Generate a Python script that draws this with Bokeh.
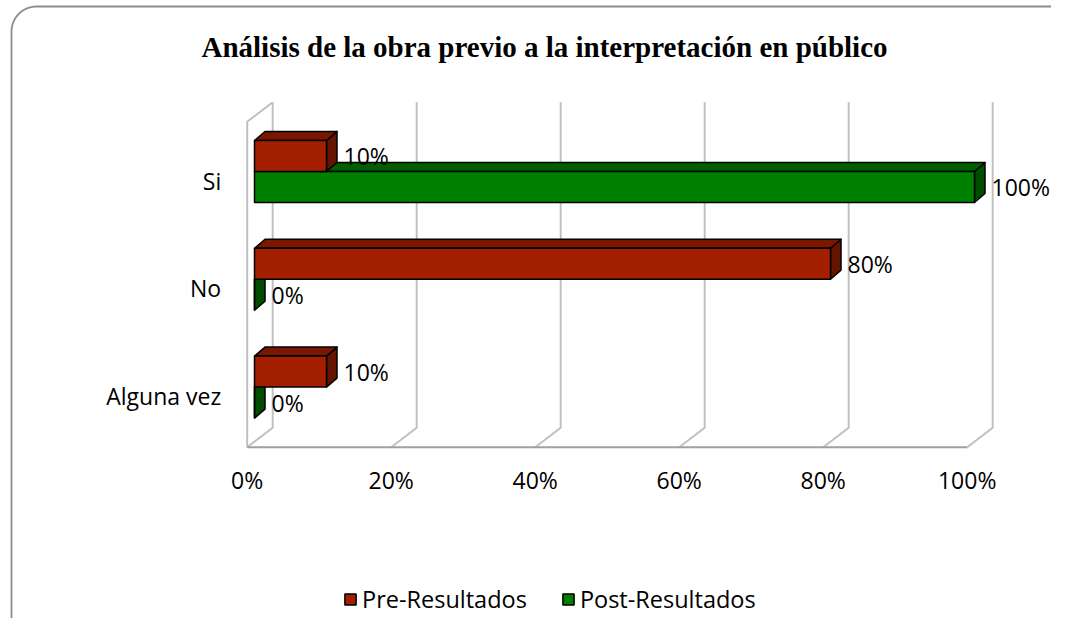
import numpy as np
from bokeh.plotting import figure
from bokeh.models import Range1d, Legend, LegendItem, ColumnDataSource
from bokeh.core.properties import value
from bokeh.embed import file_html
from bokeh.resources import INLINE

# ---------------- data ----------------
title_text = "Análisis de la obra previo a la interpretación en público"
categories = ["Si", "No", "Alguna vez"]
pre_values = [10, 80, 10]
post_values = [100, 0, 0]
series_names = ["Pre-Resultados", "Post-Resultados"]
x_ticks = [0, 20, 40, 60, 80, 100]
x_tick_labels = ["0%", "20%", "40%", "60%", "80%", "100%"]
value_labels_pre = ["10%", "80%", "10%"]
value_labels_post = ["100%", "0%", "0%"]

# ---------------- layout (screen px) ----------------
W, H = 1051, 618
X0 = 246.7      # screen x of 0% on the front floor edge
PXP = 7.2       # px per percent
Y0 = 171.0      # screen y of first category (Pre/Post boundary)
PXC = 107.8     # px per category step

x_start = -X0 / PXP
x_end = x_start + W / PXP
y_start = (H - Y0) / PXC     # bottom of canvas
y_end = -Y0 / PXC            # top of canvas


def sx(px):
    return (px - X0) / PXP


def sy(py):
    return (py - Y0) / PXC


def lx(px):
    return px / PXP


def ly(py):
    return py / PXC


FONT = "Open Sans"
TXT = "#000000"

p = figure(width=W, height=H, x_range=Range1d(x_start, x_end),
           y_range=Range1d(y_start, y_end), output_backend="svg",
           toolbar_location=None, min_border=0, x_axis_type=None,
           y_axis_type=None)
p.grid.visible = False
p.outline_line_color = None
p.background_fill_color = "white"
p.border_fill_color = "white"

# ---- chart border (rounded corner) ----
r = 25
ang = np.linspace(np.pi, 1.5 * np.pi, 20)
bx_px = [11, 11] + list(11 + r + r * np.cos(ang)) + [W + 10]
by_px = [H + 10, 6 + r] + list(6 + r + r * np.sin(ang)) + [6]
p.line([sx(v) for v in bx_px], [sy(v) for v in by_px],
       line_color="#8c8c8c", line_width=1.8)

# ---- 3D walls / grid ----
DEPTH_X = lx(25.5)
DEPTH_Y = ly(19.5)
FLOOR = sy(446.7)
TOP_FRONT = sy(121.2)
TOP_BACK = TOP_FRONT - DEPTH_Y

grid_xs = [[t, t + DEPTH_X, t + DEPTH_X] for t in x_ticks]
grid_ys = [[FLOOR, FLOOR - DEPTH_Y, TOP_BACK] for t in x_ticks]
p.multi_line(grid_xs, grid_ys, line_color="#c0c0c0", line_width=2)
# left wall
p.line([x_ticks[0], x_ticks[0], x_ticks[0] + DEPTH_X],
       [FLOOR, TOP_FRONT, TOP_BACK], line_color="#c0c0c0", line_width=2)
# floor front edge
p.line([x_ticks[0], x_ticks[-1]], [FLOOR, FLOOR], line_color="#a0a0a0",
       line_width=2)

# ---- bars ----
BAR_SHIFT = lx(7.3)
BH = ly(31)
BDX = lx(10.5)
BDY = ly(9)

styles = {
    "pre": dict(front="#A31F00", top="#7A1700", side="#661300"),
    "post": dict(front="#008000", top="#006000", side="#004D00"),
}


def bar_sources(values, offset):
    tops = [i + offset for i in range(len(values))]
    bots = [t + BH for t in tops]
    left = [BAR_SHIFT] * len(values)
    right = [BAR_SHIFT + v for v in values]
    front = ColumnDataSource(dict(left=left, right=right, top=tops, bottom=bots))
    top_xs = [[l, l + BDX, rr + BDX, rr] for l, rr in zip(left, right)]
    top_ys = [[t, t - BDY, t - BDY, t] for t in tops]
    side_xs = [[rr, rr + BDX, rr + BDX, rr] for rr in right]
    side_ys = [[t, t - BDY, b - BDY, b] for t, b in zip(tops, bots)]
    return front, dict(xs=top_xs, ys=top_ys), dict(xs=side_xs, ys=side_ys)


renderers = {}
for key, vals, off in (("post", post_values, 0.0), ("pre", pre_values, -BH)):
    front, topf, side = bar_sources(vals, off)
    st = styles[key]
    p.patches(side["xs"], side["ys"], fill_color=st["side"], line_color="black",
              line_width=1.5, line_join="round")
    p.patches(topf["xs"], topf["ys"], fill_color=st["top"], line_color="black",
              line_width=1.5, line_join="round")
    renderers[key] = p.quad(left="left", right="right", top="top",
                            bottom="bottom", source=front,
                            fill_color=st["front"], line_color="black",
                            line_width=1.5)

# ---- value labels ----
for vals, labels, off in ((pre_values, value_labels_pre, -BH),
                          (post_values, value_labels_post, 0.0)):
    xs = [BAR_SHIFT + v for v in vals]
    ys = [i + off + BH / 2 for i in range(len(vals))]
    p.text(xs, ys, text=labels, x_offset=17, text_font=value(FONT),
           text_font_size="23px", text_color=TXT, text_baseline="middle",
           text_align="left")

# ---- category labels ----
p.text([x_ticks[0]] * len(categories),
       [i + ly(9.0) for i in range(len(categories))], text=categories,
       x_offset=-26, text_font=value(FONT), text_font_size="23px",
       text_color=TXT, text_baseline="middle", text_align="right")

# ---- x tick labels ----
p.text(x_ticks, [FLOOR + ly(33)] * len(x_ticks), text=x_tick_labels,
       text_font=value(FONT), text_font_size="23px", text_color=TXT,
       text_baseline="middle", text_align="center")

# ---- title ----
p.text([sx(544)], [sy(46)], text=[title_text],
       text_font=value("Liberation Serif"), text_font_size="29px",
       text_font_style="bold", text_color=TXT, text_baseline="middle",
       text_align="center")

# ---- legend ----
legend = Legend(items=[LegendItem(label=series_names[0], renderers=[renderers["pre"]]),
                       LegendItem(label=series_names[1], renderers=[renderers["post"]])],
                orientation="horizontal", location=(343, 3), padding=0,
                margin=0, spacing=34, glyph_width=14, glyph_height=14,
                label_standoff=5, label_text_font=FONT,
                label_text_font_size="23.5px", label_text_color=TXT,
                border_line_color=None, background_fill_alpha=0)
p.add_layout(legend, "center")

open("out.html", "w").write(file_html(p, INLINE))
